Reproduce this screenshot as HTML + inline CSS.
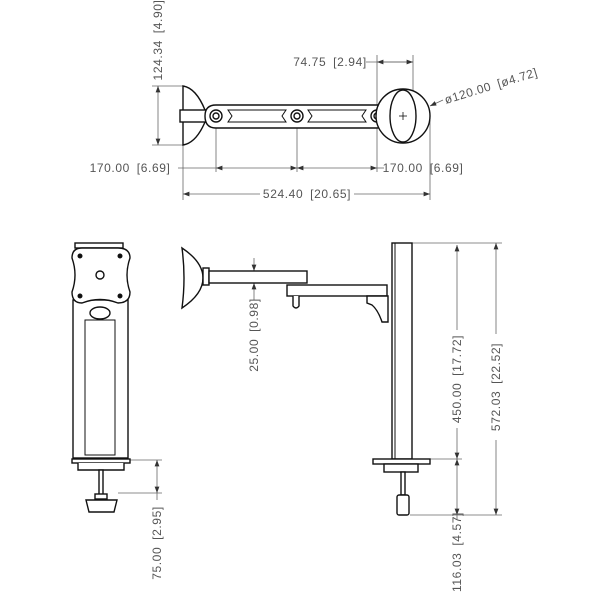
<!DOCTYPE html>
<html><head><meta charset="utf-8"><style>html,body{margin:0;background:#fff}svg{display:block}</style></head><body>
<svg width="600" height="600" viewBox="0 0 600 600" xmlns="http://www.w3.org/2000/svg" font-family="Liberation Sans, sans-serif" font-size="12" fill="none">
<defs><marker id="a" markerWidth="8" markerHeight="6" refX="8" refY="3" orient="auto-start-reverse"><path d="M0,0L8,3L0,6z" fill="#333"/></marker></defs>
<g stroke="#666" stroke-width="0.8">
<line x1="152" y1="86" x2="185" y2="86"/><line x1="152" y1="145" x2="185" y2="145"/>
<line x1="158" y1="86" x2="158" y2="145" marker-start="url(#a)" marker-end="url(#a)"/>
<line x1="377" y1="55" x2="377" y2="172"/><line x1="413" y1="55" x2="413" y2="95"/>
<line x1="366" y1="62" x2="413" y2="62"/><line x1="377" y1="62" x2="413" y2="62" marker-start="url(#a)" marker-end="url(#a)"/>
<line x1="183" y1="145" x2="183" y2="200"/><line x1="216" y1="128" x2="216" y2="172"/>
<line x1="297" y1="128" x2="297" y2="172"/><line x1="430" y1="120" x2="430" y2="200"/>
<line x1="178" y1="168" x2="216" y2="168"/><line x1="216" y1="168" x2="297" y2="168" marker-start="url(#a)" marker-end="url(#a)"/>
<line x1="297" y1="168" x2="377" y2="168" marker-start="url(#a)" marker-end="url(#a)"/><line x1="377" y1="168" x2="384" y2="168"/>
<line x1="183" y1="194" x2="260" y2="194" marker-start="url(#a)"/><line x1="354" y1="194" x2="430" y2="194" marker-end="url(#a)"/>
<line x1="443" y1="100" x2="430" y2="106" marker-end="url(#a)"/>
<line x1="125" y1="460" x2="162" y2="460"/><line x1="118" y1="493" x2="162" y2="493"/>
<line x1="157" y1="460" x2="157" y2="493" marker-start="url(#a)" marker-end="url(#a)"/><line x1="157" y1="493" x2="157" y2="500"/>
<line x1="254" y1="258" x2="254" y2="271" marker-end="url(#a)"/><line x1="254" y1="296" x2="254" y2="283" marker-end="url(#a)"/>
<line x1="254" y1="296" x2="254" y2="300"/>
<line x1="412" y1="243" x2="502" y2="243"/><line x1="430" y1="459" x2="462" y2="459"/><line x1="410" y1="515" x2="502" y2="515"/>
<line x1="457" y1="245" x2="457" y2="330" marker-start="url(#a)"/><line x1="457" y1="428" x2="457" y2="459" marker-end="url(#a)"/>
<line x1="457" y1="459" x2="457" y2="515" marker-start="url(#a)" marker-end="url(#a)"/><line x1="457" y1="515" x2="457" y2="520"/>
<line x1="496" y1="243" x2="496" y2="334" marker-start="url(#a)"/><line x1="496" y1="440" x2="496" y2="515" marker-end="url(#a)"/>
</g>
<g fill="#555" letter-spacing="0.6" word-spacing="3">
<text transform="translate(162,40) rotate(-90)" text-anchor="middle">124.34 [4.90]</text>
<text x="330" y="66" text-anchor="middle">74.75 [2.94]</text>
<text transform="translate(446,104) rotate(-17)">ø120.00 [ø4.72]</text>
<text x="130" y="172" text-anchor="middle">170.00 [6.69]</text>
<text x="423" y="172" text-anchor="middle">170.00 [6.69]</text>
<text x="307" y="198" text-anchor="middle">524.40 [20.65]</text>
<text transform="translate(161,543) rotate(-90)" text-anchor="middle">75.00 [2.95]</text>
<text transform="translate(258,335) rotate(-90)" text-anchor="middle">25.00 [0.98]</text>
<text transform="translate(461,379) rotate(-90)" text-anchor="middle">450.00 [17.72]</text>
<text transform="translate(500,387) rotate(-90)" text-anchor="middle">572.03 [22.52]</text>
<text transform="translate(461,552) rotate(-90)" text-anchor="middle">116.03 [4.57]</text>
</g>
<g stroke="#111" stroke-width="1.4" fill="#fff">
<path d="M183,86 Q196,88 205,110 L205,122 Q196,143 183,145 Z"/>
<rect x="180" y="110" width="28" height="12"/>
<path d="M216,105 L377,105 Q390,105 390,116 Q390,128 377,128 L216,128 Q205,128 205,116 Q205,105 216,105Z"/>
<path d="M228,110 L286,110 L282,116 L286,122 L228,122 L232,116Z" stroke-width="1"/>
<path d="M308,110 L366,110 L362,116 L366,122 L308,122 L312,116Z" stroke-width="1"/>
<circle cx="216" cy="116" r="6"/><circle cx="216" cy="116" r="3"/>
<circle cx="297" cy="116" r="6"/><circle cx="297" cy="116" r="3"/>
<circle cx="377" cy="116" r="6"/><circle cx="377" cy="116" r="3"/>
<circle cx="403" cy="116" r="27"/>
<ellipse cx="403" cy="116" rx="13" ry="26"/>
<line x1="399" y1="116" x2="407" y2="116" stroke-width="0.8"/><line x1="403" y1="112" x2="403" y2="120" stroke-width="0.8"/>
<rect x="75" y="243" width="48" height="5"/>
<rect x="73" y="300" width="55" height="158"/>
<rect x="85" y="320" width="30" height="135" stroke-width="1"/>
<path d="M82,248 L118,248 Q130,248 130,258 Q124,275 130,292 Q130,303 118,303 Q100,296 82,303 Q72,303 72,292 Q78,275 72,258 Q72,248 82,248Z"/>
<circle cx="100" cy="275" r="4"/>
<circle cx="80" cy="256" r="1.8" fill="#111"/><circle cx="120" cy="256" r="1.8" fill="#111"/>
<circle cx="80" cy="296" r="1.8" fill="#111"/><circle cx="120" cy="296" r="1.8" fill="#111"/>
<ellipse cx="100" cy="313" rx="10" ry="6"/>
<rect x="72" y="459" width="58" height="4"/>
<path d="M78,463 L78,470 L124,470 L124,463"/>
<rect x="99" y="470" width="4" height="27"/>
<rect x="95" y="494" width="12" height="5"/>
<path d="M86,500 L117,500 L114,512 L89,512Z"/>
<path d="M182,248 Q203,262 203,278 Q203,294 182,308 Q186,278 182,248Z"/>
<rect x="203" y="268" width="6" height="17"/>
<rect x="209" y="271" width="98" height="12"/>
<rect x="287" y="285" width="100" height="11"/>
<path d="M293,296 L293,306 Q296,310 299,306 L299,296"/>
<rect x="392" y="243" width="20" height="216"/>
<line x1="395" y1="243" x2="395" y2="459" stroke-width="1"/>
<path d="M367,296 L388,296 L388,322 L382,322 Q378,310 372,305 L367,303Z"/>
<rect x="373" y="459" width="57" height="5"/>
<rect x="384" y="464" width="34" height="8"/>
<rect x="401" y="472" width="4" height="23"/>
<rect x="397" y="495" width="12" height="20" rx="2"/>
</g>
</svg>
</body></html>
